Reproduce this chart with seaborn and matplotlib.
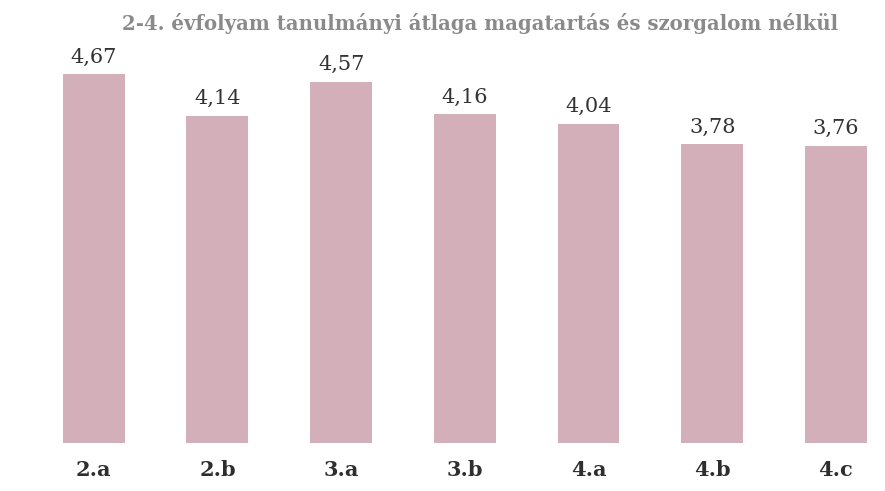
import matplotlib
matplotlib.use('Agg')
import matplotlib.pyplot as plt
import seaborn as sns
import pandas as pd

osztalyok = ['2.a', '2.b', '3.a', '3.b', '4.a', '4.b', '4.c']
atlagok = [4.67, 4.14, 4.57, 4.16, 4.04, 3.78, 3.76]
cim = '2-4. évfolyam tanulmányi átlaga magatartás és szorgalom nélkül'

df = pd.DataFrame({'osztaly': osztalyok, 'atlag': atlagok})

sns.set_style('white')
plt.rcParams['font.family'] = ['DejaVu Serif', 'DejaVu Sans']

fig = plt.figure(figsize=(8.85, 4.91), dpi=100)
ax = fig.add_axes([0, 48 / 491, 1, 413 / 491])

sns.barplot(data=df, x='osztaly', y='atlag', color='#d3b0b9',
            saturation=1, width=0.5, linewidth=0, ax=ax)

ax.set_xlim(-93.7 / 123.7, (885 - 93.7) / 123.7)
ax.set_ylim(0, 413 / 79)

cimkek = [f'{v:.2f}'.replace('.', ',') for v in atlagok]
ax.bar_label(ax.containers[0], labels=cimkek, padding=5.5,
             fontsize=15, color='#333333')

ax.set_xlabel('')
ax.set_ylabel('')
ax.set_yticks([])
ax.tick_params(axis='x', length=0, pad=12)
for t in ax.get_xticklabels():
    t.set_fontsize(15)
    t.set_fontweight('bold')
    t.set_color('#2e2e2e')
sns.despine(left=True, bottom=True)

fig.text(480 / 885, 1 - 23 / 491, cim, ha='center', va='center',
         fontsize=14.2, fontweight='bold', color='#8a8a8a')

fig.savefig('out.png', dpi=100)
